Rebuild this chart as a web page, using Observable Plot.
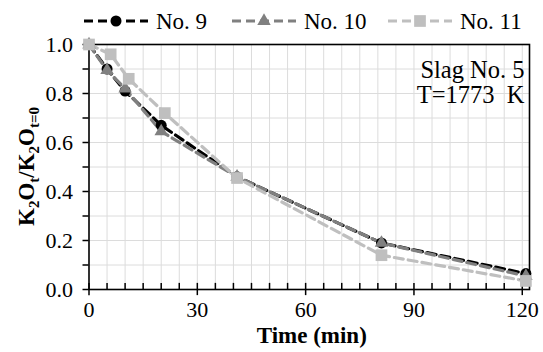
<!DOCTYPE html>
<html>
<head>
<meta charset="utf-8">
<script src="https://cdn.jsdelivr.net/npm/d3@7"></script>
<script src="https://cdn.jsdelivr.net/npm/@observablehq/plot@0.6"></script>
<style>
  html, body { margin: 0; padding: 0; background: #fff; }
  #legend { width: 543px; height: 36px; }
  svg { display: block; }
</style>
</head>
<body>
<div id="legend"></div>
<div id="chart"></div>
<script>
// ---- data ----
const seriesNames = ["No. 9", "No. 10", "No. 11"];
const seriesColors = ["#000000", "#808080", "#bfbfbf"];
const seriesSymbols = ["circle", "triangle", "square"];
const timeNo9  = [0, 5, 10, 20, 41, 81, 121];
const valueNo9 = [1.0, 0.90, 0.81, 0.67, 0.46, 0.19, 0.065];
const timeNo10  = [0, 5, 10, 20, 41, 81, 121];
const valueNo10 = [1.0, 0.895, 0.82, 0.645, 0.46, 0.19, 0.055];
const timeNo11  = [0, 6, 11, 21, 41, 81, 121];
const valueNo11 = [1.0, 0.96, 0.86, 0.72, 0.455, 0.14, 0.035];
const xTickLabels = [0, 30, 60, 90, 120];
const xMinor = d3.range(5, 120, 5).filter(d => d % 30 !== 0);
const xGrid = d3.range(5, 125, 5);
const yTickLabels = [0, 0.2, 0.4, 0.6, 0.8, 1.0];
const yMinor = d3.range(0, 1.0001, 0.1).map(d => +d.toFixed(1));
const yGrid = d3.range(0.1, 1.0, 0.1).map(d => +d.toFixed(1));

const times = [timeNo9, timeNo10, timeNo11];
const values = [valueNo9, valueNo10, valueNo11];
const rows = [];
seriesNames.forEach((s, i) => times[i].forEach((t, j) => rows.push({series: s, t, v: values[i][j]})));

const serif = "'Liberation Serif', 'Times New Roman', serif";
const symR = {circle: 5.5, triangle: 5, square: 6.6};

// ---- legend ----
const lg = d3.select("#legend").append("svg").attr("width", 543).attr("height", 36);
const legendStarts = [84, 232, 388];
seriesNames.forEach((s, i) => {
  const g = lg.append("g").attr("transform", `translate(${legendStarts[i]},21)`);
  g.append("line").attr("x1", 0).attr("x2", 64).attr("y1", 0).attr("y2", 0)
    .attr("stroke", seriesColors[i]).attr("stroke-width", 3.2).attr("stroke-dasharray", "9,5");
  const sym = {circle: d3.symbolCircle, triangle: d3.symbolTriangle, square: d3.symbolSquare}[seriesSymbols[i]];
  g.append("path").attr("transform", "translate(32,0)")
    .attr("d", d3.symbol(sym, Math.PI * symR[seriesSymbols[i]] ** 2)())
    .attr("fill", seriesColors[i]);
  g.append("text").attr("x", 72).attr("y", 0).attr("dy", "0.35em")
    .attr("font-family", serif).attr("font-size", 23).attr("fill", "#000").text(s);
});

// ---- chart ----
const H = 316, mT = 8, mB = 63, mL = 88.5, mR = 14;
const marks = [
  Plot.gridX(xGrid, {stroke: "#dcdcdc", strokeOpacity: 1, strokeWidth: 1}),
  Plot.gridY(yGrid, {stroke: "#dcdcdc", strokeOpacity: 1, strokeWidth: 1}),
  Plot.frame({stroke: "#000", strokeWidth: 1.6}),
  Plot.ruleX(xMinor, {y1: 0, y2: 0.025, stroke: "#000", strokeWidth: 1.5}),
  Plot.ruleX(xTickLabels, {y1: -0.025, y2: 0.025, stroke: "#000", strokeWidth: 1.5}),
  Plot.axisX(xTickLabels, {tickSize: 0, tickPadding: 12, fontSize: 22, fontFamily: serif, fill: "#000", label: null}),
  Plot.axisY(yMinor, {tickSize: 6, tickFormat: () => "", stroke: "#000", strokeWidth: 1.5, label: null}),
  Plot.axisY(yTickLabels, {tickSize: 0, tickPadding: 16, tickFormat: d3.format(".1f"), fontSize: 22, fontFamily: serif, fill: "#000", label: null})
];
seriesNames.forEach((s, i) => {
  const data = rows.filter(r => r.series === s);
  marks.push(Plot.line(data, {x: "t", y: "v", stroke: seriesColors[i], strokeWidth: 3.2, strokeDasharray: "9,5"}));
});
seriesNames.forEach((s, i) => {
  const data = rows.filter(r => r.series === s);
  marks.push(Plot.dot(data, {x: "t", y: "v", symbol: () => seriesSymbols[i], r: symR[seriesSymbols[i]], fill: seriesColors[i], stroke: "none"}));
});
marks.push(Plot.text(["Slag No. 5\nT=1773\u00a0 K"], {
  frameAnchor: "top-right", textAnchor: "end", lineAnchor: "top", dx: -5, dy: 15,
  fontSize: 24.5, fontFamily: serif, fill: "#000", lineHeight: 1.04
}));

const chart = Plot.plot({
  width: 543, height: H,
  marginTop: mT, marginBottom: mB, marginLeft: mL, marginRight: mR,
  x: {domain: [0, 122]},
  y: {domain: [0, 1]},
  symbol: {type: "identity"},
  style: {fontFamily: serif, background: "#fff", overflow: "visible"},
  marks
});
document.getElementById("chart").appendChild(chart);

// axis titles with subscripts
const svg = d3.select(chart);
const ylab = svg.append("text")
  .attr("transform", `translate(34,${(mT + (H - mB)) / 2}) rotate(-90)`)
  .attr("text-anchor", "middle")
  .attr("font-family", serif).attr("font-size", 23).attr("font-weight", "bold").attr("fill", "#000");
const parts = [["K", false], ["2", true], ["O", false], ["t", true], ["/K", false], ["2", true], ["O", false], ["t=0", true]];
parts.forEach(([txt, sub]) => {
  ylab.append("tspan").attr("font-size", sub ? 15 : 23).attr("dy", sub ? 5 : -5).text(txt);
});
ylab.select("tspan").attr("dy", 0);
svg.append("text")
  .attr("x", (mL + 543 - mR) / 2 + 3).attr("y", H - 14)
  .attr("text-anchor", "middle").attr("dominant-baseline", "middle")
  .attr("font-family", serif).attr("font-size", 23).attr("font-weight", "bold").attr("fill", "#000")
  .text("Time (min)");
</script>
</body>
</html>
